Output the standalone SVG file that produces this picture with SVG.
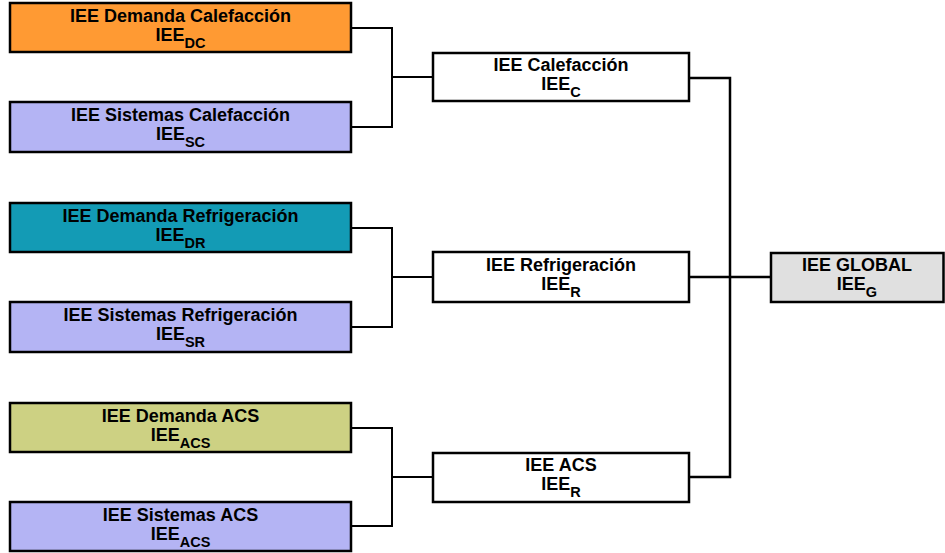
<svg xmlns="http://www.w3.org/2000/svg" width="945" height="553" viewBox="0 0 945 553">
<style>
.box{stroke:#000;stroke-width:2.5}
.t{font-family:"Liberation Sans",Arial,sans-serif;font-weight:bold;font-size:18px;text-anchor:middle;fill:#000}
.s{font-size:14.5px}
.c{fill:none;stroke:#000;stroke-width:2}
</style>
<rect width="945" height="553" fill="#fff"/>
<g id="connectors">
<polyline class="c" points="351,28 392,28 392,127 351,127"/>
<line class="c" x1="392" y1="77" x2="433" y2="77"/>
<polyline class="c" points="351,228 392,228 392,327 351,327"/>
<line class="c" x1="392" y1="277" x2="433" y2="277"/>
<polyline class="c" points="351,428 392,428 392,526 351,526"/>
<line class="c" x1="392" y1="477" x2="433" y2="477"/>
<polyline class="c" points="689,78 730,78 730,477 689,477" style="stroke-width:2.5"/>
<line class="c" x1="689" y1="277" x2="771" y2="277" style="stroke-width:2.5"/>
</g>
<g id="dc">
<rect class="box" x="10" y="3" width="341" height="49" fill="#FF9A33"/>
<text class="t" x="180.5" y="21.5">IEE Demanda Calefacción</text>
<text class="t" x="180.5" y="41">IEE<tspan class="s" dy="6.5">DC</tspan></text>
</g>
<g id="sc">
<rect class="box" x="10" y="102" width="341" height="50" fill="#B4B4F4"/>
<text class="t" x="180.5" y="120.5">IEE Sistemas Calefacción</text>
<text class="t" x="180.5" y="140">IEE<tspan class="s" dy="6.5">SC</tspan></text>
</g>
<g id="dr">
<rect class="box" x="10" y="203" width="341" height="49" fill="#139BB5"/>
<text class="t" x="180.5" y="221.5">IEE Demanda Refrigeración</text>
<text class="t" x="180.5" y="241">IEE<tspan class="s" dy="6.5">DR</tspan></text>
</g>
<g id="sr">
<rect class="box" x="10" y="302" width="341" height="50" fill="#B4B4F4"/>
<text class="t" x="180.5" y="320.5">IEE Sistemas Refrigeración</text>
<text class="t" x="180.5" y="340">IEE<tspan class="s" dy="6.5">SR</tspan></text>
</g>
<g id="dacs">
<rect class="box" x="10" y="403" width="341" height="49" fill="#CDD183"/>
<text class="t" x="180.5" y="421.5">IEE Demanda ACS</text>
<text class="t" x="180.5" y="441">IEE<tspan class="s" dy="6.5">ACS</tspan></text>
</g>
<g id="sacs">
<rect class="box" x="10" y="502" width="341" height="49" fill="#B4B4F4"/>
<text class="t" x="180.5" y="520.5">IEE Sistemas ACS</text>
<text class="t" x="180.5" y="540">IEE<tspan class="s" dy="6.5">ACS</tspan></text>
</g>
<g id="c">
<rect class="box" x="433" y="53" width="256" height="48" fill="#fff"/>
<text class="t" x="561" y="71">IEE Calefacción</text>
<text class="t" x="561" y="90">IEE<tspan class="s" dy="6.5">C</tspan></text>
</g>
<g id="r">
<rect class="box" x="433" y="252" width="256" height="50" fill="#fff"/>
<text class="t" x="561" y="271">IEE Refrigeración</text>
<text class="t" x="561" y="290">IEE<tspan class="s" dy="6.5">R</tspan></text>
</g>
<g id="acs">
<rect class="box" x="433" y="453" width="256" height="49" fill="#fff"/>
<text class="t" x="561" y="471">IEE ACS</text>
<text class="t" x="561" y="490">IEE<tspan class="s" dy="6.5">R</tspan></text>
</g>
<g id="g">
<rect class="box" x="771" y="253" width="172.5" height="49" fill="#E0E0E0"/>
<text class="t" x="857" y="271">IEE GLOBAL</text>
<text class="t" x="857" y="290">IEE<tspan class="s" dy="6.5">G</tspan></text>
</g>
</svg>
